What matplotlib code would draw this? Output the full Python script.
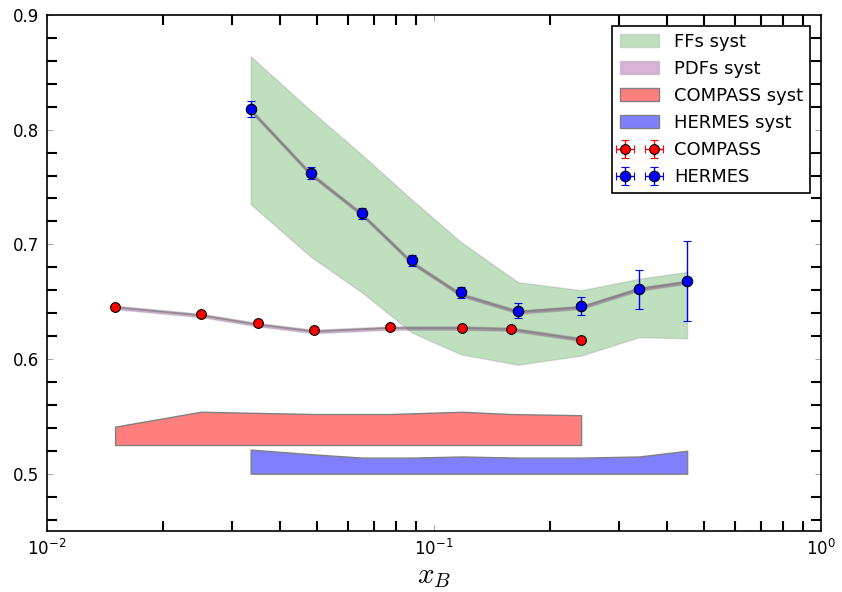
import numpy as np
import matplotlib
matplotlib.use("Agg")
import matplotlib.pyplot as plt
from matplotlib.ticker import MultipleLocator

plt.rcParams['mathtext.fontset'] = 'cm'

# COMPASS data
compass_x = [0.015, 0.025, 0.035, 0.049, 0.077, 0.118, 0.158, 0.24]
compass_y = [0.645, 0.639, 0.631, 0.625, 0.628, 0.627, 0.626, 0.617]
compass_err = [0.002, 0.002, 0.002, 0.002, 0.002, 0.002, 0.002, 0.002]
compass_theory = [0.645, 0.638, 0.630, 0.624, 0.627, 0.627, 0.626, 0.617]
compass_syst_lo = [0.525, 0.525, 0.525, 0.525, 0.525, 0.525, 0.525, 0.525]
compass_syst_hi = [0.541, 0.554, 0.553, 0.552, 0.552, 0.554, 0.552, 0.551]

# HERMES data
hermes_x = [0.0336, 0.0481, 0.0652, 0.0877, 0.1175, 0.165, 0.24, 0.339, 0.451]
hermes_y = [0.818, 0.762, 0.727, 0.686, 0.658, 0.642, 0.646, 0.661, 0.668]
hermes_err = [0.007, 0.005, 0.005, 0.005, 0.005, 0.0065, 0.008, 0.017, 0.035]
hermes_theory = [0.817, 0.761, 0.726, 0.684, 0.656, 0.641, 0.645, 0.661, 0.667]
hermes_syst_lo = [0.50, 0.50, 0.50, 0.50, 0.50, 0.50, 0.50, 0.50, 0.50]
hermes_syst_hi = [0.521, 0.517, 0.514, 0.514, 0.515, 0.514, 0.514, 0.515, 0.520]

# FFs uncertainty band at HERMES kinematics
ffs_hi = [0.864, 0.8165, 0.778, 0.739, 0.702, 0.667, 0.660, 0.670, 0.676]
ffs_lo = [0.735, 0.689, 0.658, 0.623, 0.604, 0.595, 0.603, 0.619, 0.618]
pdf_half = 0.0015

fig = plt.figure(figsize=(8.42, 5.92), dpi=100)
ax = fig.add_axes([0.0558, 0.103, 0.9192, 0.8717])

ax.fill_between(hermes_x, ffs_lo, ffs_hi, facecolor='green', edgecolor='gray',
                alpha=0.25, lw=1, label='FFs syst', zorder=1)

ht = np.array(hermes_theory)
ct = np.array(compass_theory)
ax.fill_between(hermes_x, ht - pdf_half, ht + pdf_half, facecolor='purple',
                edgecolor='gray', alpha=0.3, lw=1, label='PDFs syst', zorder=2)
ax.fill_between(compass_x, ct - pdf_half, ct + pdf_half, facecolor='purple',
                edgecolor='gray', alpha=0.3, lw=1, zorder=2)
ax.plot(hermes_x, hermes_theory, color='gray', lw=1.5, alpha=0.8, zorder=2)
ax.plot(compass_x, compass_theory, color='gray', lw=1.2, alpha=0.8, zorder=2)

ax.fill_between(compass_x, compass_syst_lo, compass_syst_hi, facecolor=(1, 0, 0, 0.5),
                edgecolor='gray', lw=1, label='COMPASS syst', zorder=2)
ax.fill_between(hermes_x, hermes_syst_lo, hermes_syst_hi, facecolor=(0, 0, 1, 0.5),
                edgecolor='gray', lw=1, label='HERMES syst', zorder=2)

ax.errorbar(compass_x, compass_y, yerr=compass_err, xerr=np.zeros(len(compass_x)),
            fmt='o', color='red', ecolor='red', mec='black', mew=0.8, ms=7,
            capsize=3, elinewidth=1, label='COMPASS', zorder=4)
ax.errorbar(hermes_x, hermes_y, yerr=hermes_err, xerr=np.zeros(len(hermes_x)),
            fmt='o', color='blue', ecolor='blue', mec='black', mew=0.8, ms=7.5,
            capsize=3, elinewidth=1, label='HERMES', zorder=4)

ax.set_xscale('log')
ax.set_xlim(1e-2, 1)
ax.set_ylim(0.45, 0.9)
ax.set_yticks([0.5, 0.6, 0.7, 0.8, 0.9])
ax.yaxis.set_minor_locator(MultipleLocator(0.02))
ax.tick_params(which='both', direction='in', top=True, right=True, labelsize=12)
ax.tick_params(which='major', length=4, width=0.5, color='gray', pad=6)
ax.tick_params(which='minor', length=7, width=1.5, color='black')
for s in ax.spines.values():
    s.set_linewidth(1.2)

ax.set_xlabel('$x_B$', fontsize=21, labelpad=2)

leg = ax.legend(loc='upper right', numpoints=2, fontsize=13, fancybox=False,
                framealpha=1, edgecolor='black', borderaxespad=0.6,
                handlelength=2.2, labelspacing=0.5)
leg.get_frame().set_linewidth(1.2)

fig.savefig('out.png', dpi=100)
